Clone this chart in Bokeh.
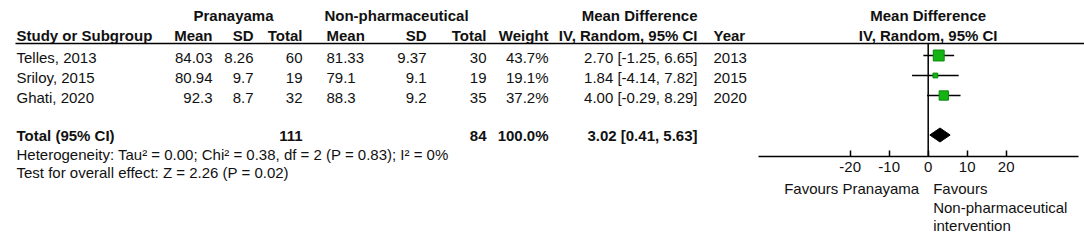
from bokeh.plotting import figure
from bokeh.models import Range1d, LinearAxis, FixedTicker
from bokeh.core.properties import value
from bokeh.embed import file_html
from bokeh.resources import INLINE

# ---------------- data ----------------
studies = ["Telles, 2013", "Sriloy, 2015", "Ghati, 2020"]
p_mean = [84.03, 80.94, 92.3]
p_sd = [8.26, 9.7, 8.7]
p_total = [60, 19, 32]
n_mean = [81.33, 79.1, 88.3]
n_sd = [9.37, 9.1, 9.2]
n_total = [30, 19, 35]
weights = [43.7, 19.1, 37.2]
md = [2.70, 1.84, 4.00]
md_lo = [-1.25, -4.14, -0.29]
md_hi = [6.65, 7.82, 8.29]
years = [2013, 2015, 2020]

total_p = 111
total_n = 84
total_w = 100.0
total_md = 3.02
total_lo = 0.41
total_hi = 5.63

heterogeneity = "Heterogeneity: Tau\u00b2 = 0.00; Chi\u00b2 = 0.38, df = 2 (P = 0.83); I\u00b2 = 0%"
overall = "Test for overall effect: Z = 2.26 (P = 0.02)"
axis_ticks = [-20, -10, 0, 10, 20]
favours_left = "Favours Pranayama"
favours_right = ["Favours", "Non-pharmaceutical", "intervention"]

# ---------------- layout constants ----------------
FONT = value("Liberation Sans")
FS = "15px"
COLOR = "#111111"
W, H = 1084, 247

Y_H1 = 15
Y_H2 = 35
Y_LINE = 43
ROW_Y = [57, 77, 97]
Y_TOTAL = 135
Y_HET = 154
Y_TEST = 172
AXIS_Y = 156
FAV_Y = [188, 207, 225]

ZERO_PX = 927.7
PX_PER_UNIT = 3.9

p = figure(width=W, height=H, x_range=Range1d(0, W), y_range=Range1d(H, 0),
           output_backend="svg", toolbar_location=None, x_axis_type=None, y_axis_type=None,
           min_border=0, outline_line_color=None)
p.xgrid.visible = False
p.ygrid.visible = False
p.extra_x_ranges = {"md": Range1d(-ZERO_PX / PX_PER_UNIT, (W - ZERO_PX) / PX_PER_UNIT)}


def put(x, ys, texts, align="right", bold=False, **kw):
    if not isinstance(ys, (list, tuple)):
        ys = [ys]
        texts = [texts]
    xs = [x] * len(ys)
    p.text(x=xs, y=ys, text=[str(s) for s in texts], text_align=align, text_baseline="middle",
           text_font=FONT, text_font_size=FS, text_color=COLOR,
           text_font_style="bold" if bold else "normal", **kw)


C_STUDY = 16
C_PMEAN, C_PSD, C_PTOT = 212, 253, 302
C_NMEAN, C_NSD, C_NTOT = 326, 426, 486
C_W, C_CI, C_YEAR = 548, 697, 713

# group headers
put(233, Y_H1, "Pranayama", "center", True)
put(396, Y_H1, "Non-pharmaceutical", "center", True)
put(C_CI, Y_H1, "Mean Difference", "right", True)

# column headers
put(C_STUDY, Y_H2, "Study or Subgroup", "left", True)
put(C_PMEAN, Y_H2, "Mean", "right", True)
put(C_PSD, Y_H2, "SD", "right", True)
put(C_PTOT, Y_H2, "Total", "right", True)
put(C_NMEAN, Y_H2, "Mean", "left", True)
put(C_NSD, Y_H2, "SD", "right", True)
put(C_NTOT, Y_H2, "Total", "right", True)
put(C_W, Y_H2, "Weight", "right", True)
put(C_CI, Y_H2, "IV, Random, 95% CI", "right", True)
put(C_YEAR, Y_H2, "Year", "left", True)

p.segment(x0=[15], x1=[W], y0=[Y_LINE], y1=[Y_LINE], line_color="black", line_width=1.6)

# study rows
put(C_STUDY, ROW_Y, studies, "left")
put(C_PMEAN, ROW_Y, p_mean, "right")
put(C_PSD, ROW_Y, p_sd, "right")
put(C_PTOT, ROW_Y, p_total, "right")
put(C_NMEAN, ROW_Y, n_mean, "left")
put(C_NSD, ROW_Y, n_sd, "right")
put(C_NTOT, ROW_Y, n_total, "right")
put(C_W, ROW_Y, [f"{w:.1f}%" for w in weights], "right")
put(C_CI, ROW_Y, [f"{m:.2f} [{a:.2f}, {b:.2f}]" for m, a, b in zip(md, md_lo, md_hi)], "right")
put(C_YEAR, ROW_Y, years, "left")

# total row
put(C_STUDY, Y_TOTAL, "Total (95% CI)", "left", True)
put(C_PTOT, Y_TOTAL, total_p, "right", True)
put(C_NTOT, Y_TOTAL, total_n, "right", True)
put(C_W, Y_TOTAL, f"{total_w:.1f}%", "right", True)
put(C_CI, Y_TOTAL, f"{total_md:.2f} [{total_lo:.2f}, {total_hi:.2f}]", "right", True)

put(C_STUDY, Y_HET, heterogeneity, "left")
put(C_STUDY, Y_TEST, overall, "left")

# ---------------- forest part ----------------
put(0, Y_H1, "Mean Difference", "center", True, x_range_name="md")
put(0, Y_H2, "IV, Random, 95% CI", "center", True, x_range_name="md")

p.segment(x0=[0], x1=[0], y0=[Y_LINE], y1=[AXIS_Y], line_color="black", line_width=1.5,
          x_range_name="md")

ci_y = [y - 2 for y in ROW_Y]
p.segment(x0=md_lo, x1=md_hi, y0=ci_y, y1=ci_y, line_color="black", line_width=1.5,
          x_range_name="md")
sizes = [w * 0.25 for w in weights]
p.scatter(x=md, y=ci_y, size=sizes, marker="square", fill_color="#14b414",
          line_color="#0a8a0a", line_width=1, x_range_name="md")

dy = 7
YD = Y_TOTAL - 0.5
p.patch(x=[total_lo, total_md, total_hi, total_md], y=[YD, YD - dy, YD, YD + dy],
        fill_color="black", line_color="black", x_range_name="md")

ax = LinearAxis(x_range_name="md", ticker=FixedTicker(ticks=axis_ticks), bounds=(-43.5, 38.5),
                fixed_location=AXIS_Y)
ax.major_label_overrides = {t: str(t) for t in axis_ticks}
ax.axis_line_color = "black"
ax.axis_line_width = 1.5
ax.major_tick_in = 6
ax.major_tick_out = 0
ax.major_tick_line_width = 1.5
ax.minor_tick_line_color = None
ax.major_label_standoff = 5
ax.major_label_text_font = "Liberation Sans"
ax.major_label_text_font_size = FS
ax.major_label_text_color = COLOR
p.add_layout(ax, "below")

put(0, FAV_Y[0], favours_left, "right", x_range_name="md", x_offset=-9)
put(0, FAV_Y, favours_right, "left", x_range_name="md", x_offset=5)

open("out.html", "w").write(file_html(p, INLINE))
